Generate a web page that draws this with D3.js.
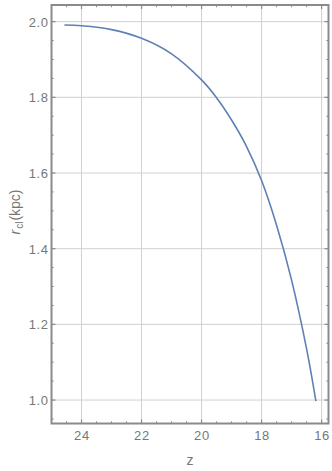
<!DOCTYPE html>
<meta charset="utf-8">
<style>
body { margin: 0; background: #fff; }
svg { font-family: "Liberation Sans", Arial, sans-serif; }
.grid line { stroke: #d0d0d0; stroke-width: 1; }
.curve { fill: none; stroke: #5e81b5; stroke-width: 1.6; }
.tick-label { fill: #777; font-size: 13px; letter-spacing: 0.6px; }
</style>
<svg width="332" height="471"></svg>
<script src="https://cdn.jsdelivr.net/npm/d3@7"></script>
<script>
// points
var zVals = [24.57, 24.0, 23.0, 22.0, 21.0, 20.0, 19.5, 19.0, 18.5, 18.0, 17.5, 17.0, 16.5, 16.19];
var rVals = [1.991, 1.989, 1.979, 1.956, 1.915, 1.846, 1.799, 1.740, 1.670, 1.580, 1.462, 1.317, 1.135, 0.997];

var xTicks = [24, 22, 20, 18, 16];
var yTicks = [1.0, 1.2, 1.4, 1.6, 1.8, 2.0];

// note: "top" is reserved on window, so use other names
var svg = d3.select("svg"),
    fL = 51.5, fR = 328.5, fT = 5, fB = 423.5;

var x = d3.scaleLinear().domain([25.0, 15.77]).range([fL, fR]);
var y = d3.scaleLinear().domain([0.938, 2.044]).range([fB, fT]);

// grid
var grid = svg.append("g").attr("class", "grid");
grid.selectAll(".gx").data(xTicks).enter().append("line")
    .attr("x1", function(d) { return x(d); }).attr("x2", function(d) { return x(d); })
    .attr("y1", fT).attr("y2", fB);
grid.selectAll(".gy").data(yTicks).enter().append("line")
    .attr("y1", function(d) { return y(d); }).attr("y2", function(d) { return y(d); })
    .attr("x1", fL).attr("x2", fR);

// curve
var line = d3.line()
    .curve(d3.curveCatmullRom.alpha(0.5))
    .x(function(d) { return x(d[0]); })
    .y(function(d) { return y(d[1]); });
svg.append("path")
    .attr("class", "curve")
    .attr("d", line(d3.zip(zVals, rVals)));

// frame ticks (inward, mirrored on all four sides)
var ticks = svg.append("g").attr("stroke", "#8a8a8a");
var xMinor = d3.range(15.5, 25.01, 0.5);
xMinor.forEach(function(v) {
  if (x(v) < fL || x(v) > fR) return;
  var major = xTicks.indexOf(v) >= 0, len = major ? 4 : 2.2;
  ticks.append("line").attr("x1", x(v)).attr("x2", x(v)).attr("y1", fB).attr("y2", fB - len).attr("stroke-width", major ? 1.2 : 1);
  ticks.append("line").attr("x1", x(v)).attr("x2", x(v)).attr("y1", fT).attr("y2", fT + len).attr("stroke-width", major ? 1.2 : 1);
});
var yMinor = d3.range(0.95, 2.041, 0.05);
yMinor.forEach(function(v) {
  v = Math.round(v * 100) / 100;
  var major = yTicks.indexOf(v) >= 0, len = major ? 4 : 2.2;
  ticks.append("line").attr("y1", y(v)).attr("y2", y(v)).attr("x1", fL).attr("x2", fL + len).attr("stroke-width", major ? 1.2 : 1);
  ticks.append("line").attr("y1", y(v)).attr("y2", y(v)).attr("x1", fR).attr("x2", fR - len).attr("stroke-width", major ? 1.2 : 1);
});

// frame
svg.append("rect")
    .attr("x", fL).attr("y", fT)
    .attr("width", fR - fL).attr("height", fB - fT)
    .attr("fill", "none").attr("stroke", "#8a8a8a").attr("stroke-width", 2);

// tick labels
svg.selectAll(".xl").data(xTicks).enter().append("text")
    .attr("class", "tick-label")
    .attr("x", function(d) { return x(d) + 0.4; })
    .attr("y", fB + 16.5)
    .attr("text-anchor", "middle")
    .text(function(d) { return d; });
svg.selectAll(".yl").data(yTicks).enter().append("text")
    .attr("class", "tick-label")
    .attr("x", fL - 3)
    .attr("y", function(d) { return y(d) + 5; })
    .attr("text-anchor", "end")
    .text(function(d) { return d.toFixed(1); });

// axis titles
svg.append("text")
    .attr("x", 190).attr("y", 465)
    .attr("text-anchor", "middle")
    .attr("fill", "#777").style("font-size", "14px")
    .text("z");

var yt = svg.append("text")
    .attr("transform", "translate(20," + 212 + ") rotate(-90)")
    .attr("text-anchor", "middle")
    .attr("fill", "#777").style("font-size", "14px");
yt.append("tspan").style("font-style", "italic").text("r");
yt.append("tspan").attr("dx", 1).attr("dy", 3).style("font-size", "10px").text("cl");
yt.append("tspan").attr("dx", 1).attr("dy", -3).text("(kpc)");
</script>
